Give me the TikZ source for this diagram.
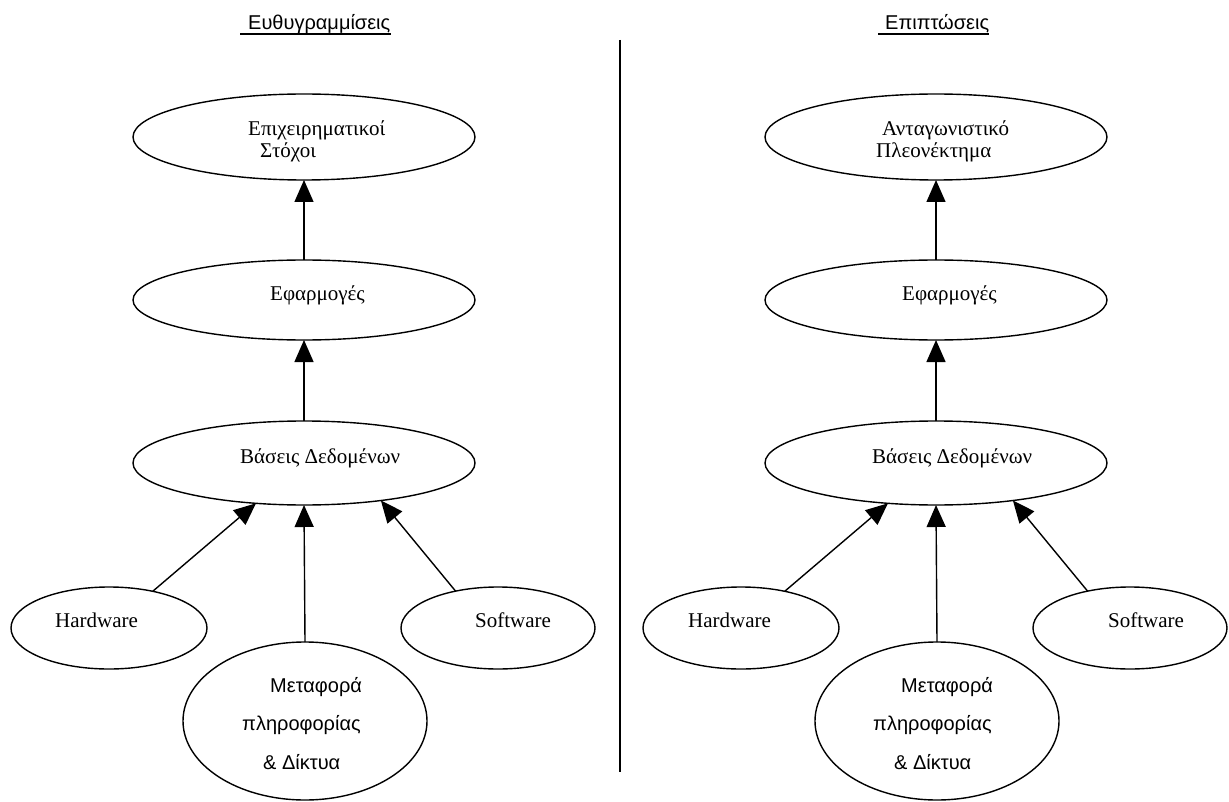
\documentclass[tikz,border=0pt]{standalone}
\usepackage{fontspec}
\setmainfont{Liberation Serif}
\newfontfamily\arialf{Liberation Sans}
\usetikzlibrary{arrows.meta,shapes.geometric}
\begin{document}
\begin{tikzpicture}[x=1pt,y=-1pt,
  oval/.style={draw,ellipse,line width=1.4pt,inner sep=0pt,outer sep=0pt},
  lbl/.style={anchor=west,inner sep=0pt,font=\fontsize{21}{23}\selectfont},
  sans/.style={anchor=west,inner sep=0pt,font=\arialf\fontsize{20}{24}\selectfont},
  ttl/.style={anchor=base west,inner sep=0pt,font=\arialf\fontsize{20}{24}\selectfont},
  conn/.style={line width=1.4pt,-{Triangle[width=19pt,length=22pt]}}
]
\useasboundingbox (0,0) rectangle (1229,802);

% titles
\node[ttl] (T1) at (248,30) {Ευθυγραμμίσεις};
\draw[line width=1.5pt] ([xshift=-8pt,yshift=-4pt]T1.base west) -- ([yshift=-4pt]T1.base east);
\node[ttl] (T2) at (885,30) {Επιπτώσεις};
\draw[line width=1.5pt] ([xshift=-7pt,yshift=-4pt]T2.base west) -- ([yshift=-4pt]T2.base east);

% divider
\coordinate (vt) at (620,40);
\coordinate (vb) at (620,772);
\draw[line width=1.4pt] (vt) -- (vb);

% ---------- left column ----------
\node[oval,minimum width=342pt,minimum height=86pt] (La) at (304,137) {};
\node[oval,minimum width=342pt,minimum height=80pt] (Lb) at (304,300) {};
\node[oval,minimum width=342pt,minimum height=84pt] (Lc) at (304,463) {};
\node[oval,minimum width=196pt,minimum height=82pt] (Lh) at (109,628) {};
\node[oval,minimum width=194pt,minimum height=82pt] (Ls) at (498,628) {};
\node[oval,minimum width=244pt,minimum height=158pt] (Lm) at (305,721) {};

\node[lbl] (La1) at (248,130) {Επιχειρηματικοί};
\node[lbl] (La2) at (260,152) {Στόχοι};
\node[lbl] (Lb1) at (270,295) {Εφαρμογές};
\node[lbl] (Lc1) at (240,458) {Βάσεις Δεδομένων};
\node[lbl] (Lh1) at (55,620) {Hardware};
\node[lbl] (Ls1) at (475,620) {Software};
\node[sans] (Lm1) at (270,687) {Μεταφορά};
\node[sans] (Lm2) at (242,725) {πληροφορίας};
\node[sans] (Lm3) at (263,762) {\& Δίκτυα};

\draw[conn] (Lb.north) -- (La.south);
\draw[conn] (Lc.north) -- (Lb.south);
\draw[conn] (Lm.north) -- (Lc.south);
\draw[conn] (Lh.40) -- (Lc.220);
\draw[conn] (Ls.139) -- (Lc.334);

% ---------- right column ----------
\node[oval,minimum width=342pt,minimum height=86pt] (Ra) at (936,137) {};
\node[oval,minimum width=342pt,minimum height=80pt] (Rb) at (936,300) {};
\node[oval,minimum width=342pt,minimum height=84pt] (Rc) at (936,463) {};
\node[oval,minimum width=196pt,minimum height=82pt] (Rh) at (741,628) {};
\node[oval,minimum width=194pt,minimum height=82pt] (Rs) at (1130,628) {};
\node[oval,minimum width=244pt,minimum height=158pt] (Rm) at (937,721) {};

\node[lbl] (Ra1) at (882,130) {Ανταγωνιστικό};
\node[lbl] (Ra2) at (876,152) {Πλεονέκτημα};
\node[lbl] (Rb1) at (902,295) {Εφαρμογές};
\node[lbl] (Rc1) at (872,458) {Βάσεις Δεδομένων};
\node[lbl] (Rh1) at (688,620) {Hardware};
\node[lbl] (Rs1) at (1108,620) {Software};
\node[sans] (Rm1) at (901,687) {Μεταφορά};
\node[sans] (Rm2) at (873,725) {πληροφορίας};
\node[sans] (Rm3) at (894,762) {\& Δίκτυα};

\draw[conn] (Rb.north) -- (Ra.south);
\draw[conn] (Rc.north) -- (Rb.south);
\draw[conn] (Rm.north) -- (Rc.south);
\draw[conn] (Rh.40) -- (Rc.220);
\draw[conn] (Rs.139) -- (Rc.334);
\end{tikzpicture}
\end{document}
